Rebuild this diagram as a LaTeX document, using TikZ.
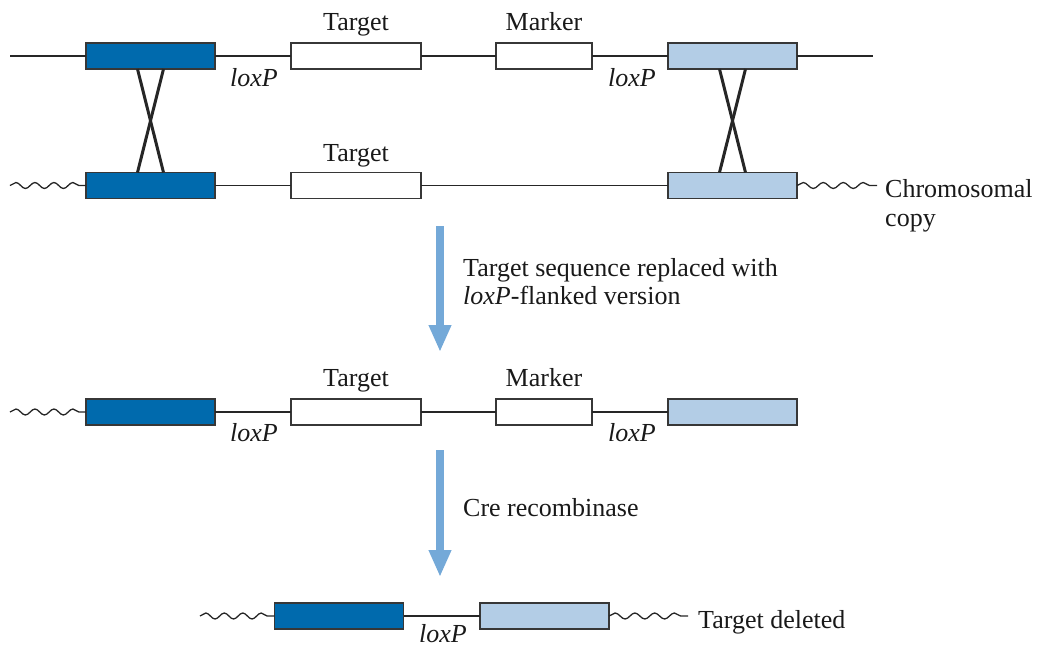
\documentclass[tikz,border=0pt]{standalone}
\usepackage{fontspec}
\setmainfont{Liberation Serif}
\newfontfamily\tms{Liberation Serif}
\usetikzlibrary{arrows.meta,decorations.pathmorphing}
\definecolor{dblue}{RGB}{0,106,173}
\definecolor{lblue}{RGB}{179,205,230}
\definecolor{ablue}{RGB}{116,169,216}
\definecolor{edgec}{RGB}{55,55,55}
\begin{document}
\begin{tikzpicture}[x=1pt,y=-1pt,
 box/.style={draw=edgec,line width=1.3pt,minimum height=26pt,inner sep=0pt,outer sep=0pt},
 dbox/.style={box,fill=dblue,minimum width=129pt},
 lbox/.style={box,fill=lblue,minimum width=129pt},
 wbox/.style={box,fill=white,minimum width=130pt},
 mbox/.style={box,fill=white,minimum width=96pt},
 dna/.style={line width=1.3pt,draw=black!85},
 wavy/.style={dna,decorate,decoration={snake,segment length=#1,amplitude=3pt}},
 xline/.style={line width=3pt,draw=black!85},
 lbl/.style={font=\tms\fontsize{26}{30}\selectfont,text=black!90,inner sep=0pt,anchor=base},
 lblw/.style={lbl,anchor=base west},
 bigarrow/.style={draw=ablue,line width=8pt,-{Triangle[width=21pt,length=27pt]}}
]
\useasboundingbox (0,0) rectangle (1039,646);

% ---- Row 1: targeting construct
\coordinate (l1) at (10,56);
\coordinate (r1) at (873,56);
\node[dbox] (a1) at (150.5,56) {};
\node[wbox] (t1) at (356,56) {};
\node[mbox] (m1) at (544,56) {};
\node[lbox] (b1) at (732.5,56) {};
\draw[dna] (l1) -- (a1.west) (a1.east) -- (t1.west) (t1.east) -- (m1.west) (m1.east) -- (b1.west) (b1.east) -- (r1);
\node[lbl] (tl1) at (356,30) {Target};
\node[lbl] (ml1) at (544,30) {Marker};
\node[lbl] (x1a) at (254,86) {\textit{loxP}};
\node[lbl] (x1b) at (632,86) {\textit{loxP}};

% ---- Row 2: chromosome
\coordinate (l2) at (10,185.5);
\coordinate (r2) at (877,185.5);
\node[dbox] (a2) at (150.5,185.5) {};
\node[wbox] (t2) at (356,185.5) {};
\node[lbox] (b2) at (732.5,185.5) {};
\draw[wavy=19pt] (l2) -- (a2.west);
\draw[wavy=20pt] (b2.east) -- (r2);
\draw[dna] (a2.east) -- (t2.west) (t2.east) -- (b2.west);
\node[lbl] (tl2) at (356,161) {Target};
\node[lblw] (chr) at (885,197) {Chromosomal};
\node[lblw] (cpy) at (885,226) {copy};

% crossovers
\draw[xline] ([xshift=-13pt]a1.south) -- ([xshift=13pt]a2.north);
\draw[xline] ([xshift=13pt]a1.south) -- ([xshift=-13pt]a2.north);
\draw[xline] ([xshift=-13pt]b1.south) -- ([xshift=13pt]b2.north);
\draw[xline] ([xshift=13pt]b1.south) -- ([xshift=-13pt]b2.north);

% ---- Arrow 1
\coordinate (ar1s) at (440,226);
\coordinate (ar1e) at (440,352);
\draw[bigarrow] (ar1s) -- (ar1e);
\node[lblw] (txt1) at (463,276) {Target sequence replaced with};
\node[lblw] (txt2) at (463,304) {\textit{loxP}-flanked version};

% ---- Row 3: recombined chromosome
\coordinate (l3) at (10,412);
\node[dbox] (a3) at (150.5,412) {};
\node[wbox] (t3) at (356,412) {};
\node[mbox] (m3) at (544,412) {};
\node[lbox] (b3) at (732.5,412) {};
\draw[wavy=19pt] (l3) -- (a3.west);
\draw[dna] (a3.east) -- (t3.west) (t3.east) -- (m3.west) (m3.east) -- (b3.west);
\node[lbl] (tl3) at (356,386) {Target};
\node[lbl] (ml3) at (544,386) {Marker};
\node[lbl] (x3a) at (254,441) {\textit{loxP}};
\node[lbl] (x3b) at (632,441) {\textit{loxP}};

% ---- Arrow 2
\coordinate (ar2s) at (440,450);
\coordinate (ar2e) at (440,577);
\draw[bigarrow] (ar2s) -- (ar2e);
\node[lblw] (txt3) at (463,516) {Cre recombinase};

% ---- Row 4: deletion
\coordinate (l4) at (200,616);
\coordinate (r4) at (688,616);
\node[dbox] (a4) at (339,616) {};
\node[lbox] (b4) at (544.5,616) {};
\draw[wavy=18.5pt] (l4) -- (a4.west);
\draw[wavy=19.75pt] (b4.east) -- (r4);
\draw[dna] (a4.east) -- (b4.west);
\node[lbl] (x4) at (443,642) {\textit{loxP}};
\node[lblw] (del) at (698,628) {Target deleted};
\end{tikzpicture}
\end{document}
